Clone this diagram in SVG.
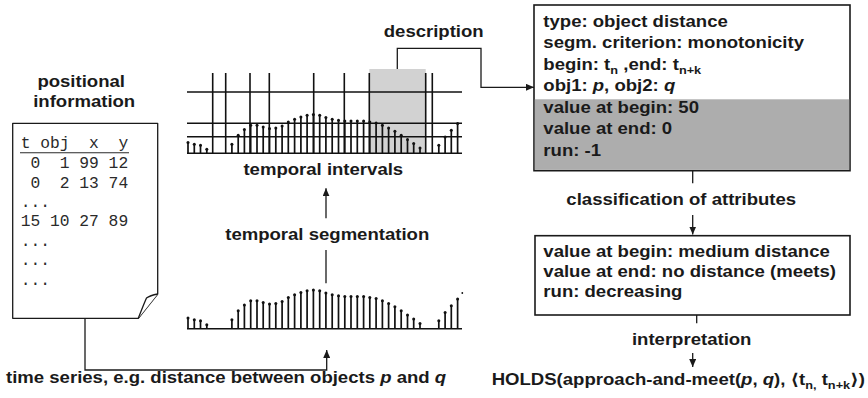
<svg xmlns="http://www.w3.org/2000/svg" width="868" height="398" viewBox="0 0 868 398">
  <style>
    .lbl { font-family: "Liberation Sans", Arial, "DejaVu Sans", sans-serif; font-weight: bold; font-size: 16px; fill: #1a1a1a; }
    .mid { text-anchor: middle; }
    .it { font-style: italic; }
    .sub { font-size: 11px; }
    .mono { font-family: "Liberation Mono", "Courier New", monospace; font-size: 16.3px; fill: #2a2a2a; }
    .conn { fill: none; stroke: #1a1a1a; stroke-width: 1.3; }
    .grid { stroke: #111; stroke-width: 1.6; fill: none; }
    .stem { stroke: #111; stroke-width: 1.7; fill: none; }
    .head { fill: #111; }
    .box { fill: #fff; stroke: #1a1a1a; stroke-width: 1.6; }
    .doc { fill: #fff; stroke: #1a1a1a; stroke-width: 1.3; stroke-linejoin: round; }
  </style>
  <defs>
    <marker id="arrow" viewBox="0 0 8 7" refX="8" refY="3.5" markerWidth="8" markerHeight="7" markerUnits="userSpaceOnUse" orient="auto">
      <path d="M0,0 L8,3.5 L0,7 z" fill="#1a1a1a"/>
    </marker>
    <!-- distance values as stems, drawn relative to a baseline at y=0 -->
    <g id="series">
      <path class="stem" d="M188,0V-10.7M194.3,0V-9M200.5,0V-8M206.8,0V-4M231.9,0V-9M238.2,0V-18M244.4,0V-23.7M250.7,0V-28M257,0V-28M263.2,0V-26.3M269.5,0V-24.7M275.8,0V-25.3M282.1,0V-27.3M288.3,0V-31.3M294.6,0V-34M300.9,0V-36.3M307.1,0V-38M313.4,0V-38.7M319.7,0V-38M325.9,0V-35.7M332.2,0V-34M338.5,0V-33M344.8,0V-32.3M351,0V-32.3M357.3,0V-32.3M363.6,0V-32.3M369.8,0V-31.3M376.1,0V-30.3M382.4,0V-28M388.6,0V-25.3M394.9,0V-22M401.2,0V-18M407.5,0V-13.7M413.7,0V-9.7M420,0V-5.3M438.8,0V-8M445.1,0V-16.3M451.3,0V-23M457.6,0V-29.7"/>
      <g class="head">
        <circle cx="188" cy="-10.7" r="1.5"/><circle cx="194.3" cy="-9" r="1.5"/><circle cx="200.5" cy="-8" r="1.5"/><circle cx="206.8" cy="-4" r="1.5"/>
        <circle cx="231.9" cy="-9" r="1.5"/><circle cx="238.2" cy="-18" r="1.5"/><circle cx="244.4" cy="-23.7" r="1.5"/><circle cx="250.7" cy="-28" r="1.5"/>
        <circle cx="257" cy="-28" r="1.5"/><circle cx="263.2" cy="-26.3" r="1.5"/><circle cx="269.5" cy="-24.7" r="1.5"/><circle cx="275.8" cy="-25.3" r="1.5"/>
        <circle cx="282.1" cy="-27.3" r="1.5"/><circle cx="288.3" cy="-31.3" r="1.5"/><circle cx="294.6" cy="-34" r="1.5"/><circle cx="300.9" cy="-36.3" r="1.5"/>
        <circle cx="307.1" cy="-38" r="1.5"/><circle cx="313.4" cy="-38.7" r="1.5"/><circle cx="319.7" cy="-38" r="1.5"/><circle cx="325.9" cy="-35.7" r="1.5"/>
        <circle cx="332.2" cy="-34" r="1.5"/><circle cx="338.5" cy="-33" r="1.5"/><circle cx="344.8" cy="-32.3" r="1.5"/><circle cx="351" cy="-32.3" r="1.5"/>
        <circle cx="357.3" cy="-32.3" r="1.5"/><circle cx="363.6" cy="-32.3" r="1.5"/><circle cx="369.8" cy="-31.3" r="1.5"/><circle cx="376.1" cy="-30.3" r="1.5"/>
        <circle cx="382.4" cy="-28" r="1.5"/><circle cx="388.6" cy="-25.3" r="1.5"/><circle cx="394.9" cy="-22" r="1.5"/><circle cx="401.2" cy="-18" r="1.5"/>
        <circle cx="407.5" cy="-13.7" r="1.5"/><circle cx="413.7" cy="-9.7" r="1.5"/><circle cx="420" cy="-5.3" r="1.5"/>
        <circle cx="438.8" cy="-8" r="1.5"/><circle cx="445.1" cy="-16.3" r="1.5"/><circle cx="451.3" cy="-23" r="1.5"/><circle cx="457.6" cy="-29.7" r="1.5"/>
      </g>
      <line class="grid" x1="187" y1="0" x2="462" y2="0"/>
    </g>
  </defs>

  <rect width="868" height="398" fill="#fff"/>

  <!-- positional information document -->
  <g id="positional-info">
    <path class="doc" d="M12.7,123.3 H157.7 V294 L138.3,318.3 H12.7 Z"/>
    <path class="doc" d="M157.7,294 Q150,295.5 146.5,298 Q143,306 138.3,318.3"/>
    <text class="mono" x="20.7" y="148.3" xml:space="preserve">t obj  x  y</text>
    <line x1="20" y1="152.7" x2="129" y2="152.7" stroke="#2a2a2a" stroke-width="1.1"/>
    <text class="mono" x="20.7" y="168.3" xml:space="preserve"> 0  1 99 12</text>
    <text class="mono" x="20.7" y="187.7" xml:space="preserve"> 0  2 13 74</text>
    <text class="mono" x="20.7" y="207" xml:space="preserve">...</text>
    <text class="mono" x="20.7" y="226.3" xml:space="preserve">15 10 27 89</text>
    <text class="mono" x="20.7" y="245.7" xml:space="preserve">...</text>
    <text class="mono" x="20.7" y="265" xml:space="preserve">...</text>
    <text class="mono" x="20.7" y="284.5" xml:space="preserve">...</text>
  </g>

  <!-- segmented series with interval boundaries -->
  <g id="temporal-intervals">
    <rect x="369.3" y="69" width="56.4" height="84.3" fill="#d2d2d2"/>
    <g class="grid">
      <line x1="187" y1="92" x2="462" y2="92"/>
      <line x1="187" y1="123.3" x2="462" y2="123.3"/>
      <line x1="187" y1="136.8" x2="462" y2="136.8"/>
      <path d="M212.7,73V153.3M225.7,73V153.3M250,73V153.3M269.3,73V153.3M313.7,73V153.3M344.3,73V153.3M369.3,73V153.3M425.7,73V153.3M432.3,73V153.3"/>
    </g>
    <use href="#series" transform="translate(0,153.3)"/>
  </g>

  <!-- raw time series -->
  <g id="time-series">
    <use href="#series" transform="translate(0,328.7)"/>
    <circle cx="462.3" cy="293" r="0.9" fill="#111"/>
  </g>

  <!-- attribute description -->
  <g id="description-box">
    <rect class="box" x="534" y="5" width="316" height="165.7"/>
    <rect x="534.8" y="99.3" width="314.4" height="70.6" fill="#adadad"/>
  </g>

  <!-- qualitative classification -->
  <g id="classification-box">
    <rect class="box" x="535" y="235.7" width="315" height="79.3"/>
  </g>

  <!-- connectors -->
  <g id="connectors">
    <path class="conn" d="M397.3,69 V48.3 H481 V87.3 H534" marker-end="url(#arrow)"/>
    <line class="conn" x1="326" y1="283.3" x2="326" y2="250"/>
    <line class="conn" x1="326" y1="218.3" x2="326" y2="188.3" marker-end="url(#arrow)"/>
    <path class="conn" d="M85,318.3 V370 H326.7 V350" marker-end="url(#arrow)"/>
    <line class="conn" x1="692.7" y1="170.7" x2="692.7" y2="183.3"/>
    <line class="conn" x1="692.7" y1="215" x2="692.7" y2="234.5" marker-end="url(#arrow)"/>
    <line class="conn" x1="696.7" y1="315" x2="696.7" y2="323.3"/>
    <line class="conn" x1="692.7" y1="353" x2="692.7" y2="367" marker-end="url(#arrow)"/>
  </g>

  <!-- labels, set in a horizontally widened face -->
  <g id="labels" transform="scale(1.16 1)">
    <text class="lbl mid" x="70" y="86.7">positional</text>
    <text class="lbl mid" x="72.6" y="106.7">information</text>
    <text class="lbl mid" x="373.9" y="36.7">description</text>
    <text class="lbl mid" x="278.7" y="175">temporal intervals</text>
    <text class="lbl mid" x="282.1" y="240">temporal segmentation</text>
    <text class="lbl" x="5.2" y="383.3">time series, e.g. distance between objects <tspan class="it">p</tspan> and <tspan class="it">q</tspan></text>

    <text class="lbl" x="468.4" y="27">type: object distance</text>
    <text class="lbl" x="468.4" y="48.5">segm. criterion: monotonicity</text>
    <text class="lbl" x="468.4" y="70">begin: t<tspan class="sub" dy="4">n</tspan><tspan dy="-4"> ,end: t</tspan><tspan class="sub" dy="4">n+k</tspan></text>
    <text class="lbl" x="468.4" y="91.5">obj1: <tspan class="it">p</tspan>, obj2: <tspan class="it">q</tspan></text>
    <text class="lbl" x="468.4" y="113">value at begin: 50</text>
    <text class="lbl" x="468.4" y="134.5">value at end: 0</text>
    <text class="lbl" x="468.4" y="156">run: -1</text>

    <text class="lbl mid" x="587.3" y="205">classification of attributes</text>

    <text class="lbl" x="468.4" y="257.5">value at begin: medium distance</text>
    <text class="lbl" x="468.4" y="277.5">value at end: no distance (meets)</text>
    <text class="lbl" x="468.4" y="297">run: decreasing</text>

    <text class="lbl mid" x="596.3" y="345">interpretation</text>
    <text class="lbl" x="423.9" y="385">HOLDS(approach-and-meet(<tspan class="it">p</tspan>, <tspan class="it">q</tspan>), ⟨t<tspan class="sub" dy="4">n,</tspan><tspan dy="-4"> t</tspan><tspan class="sub" dy="4">n+k</tspan><tspan dy="-4">⟩)</tspan></text>
  </g>
</svg>
